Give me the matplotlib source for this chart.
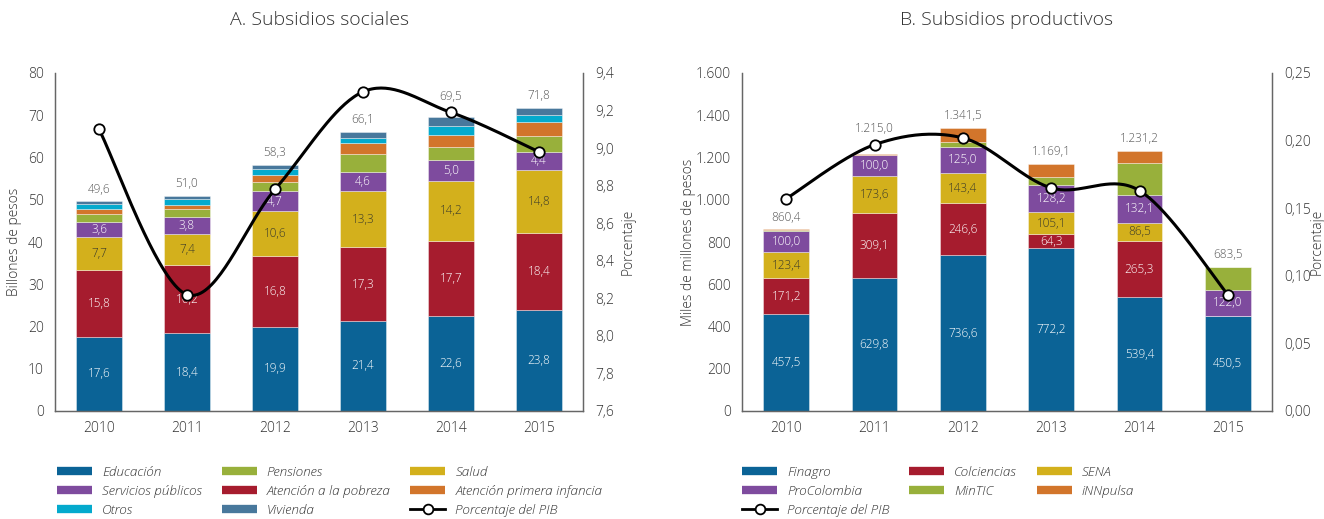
import matplotlib
matplotlib.use("Agg")
import matplotlib.pyplot as plt
import numpy as np
from matplotlib.lines import Line2D
from matplotlib.ticker import FuncFormatter

plt.rcParams["font.family"] = ["Open Sans", "DejaVu Sans"]
plt.rcParams["font.weight"] = 300

years = ["2010", "2011", "2012", "2013", "2014", "2015"]

# A. Subsidios sociales (billones de pesos)
educacion = [17.6, 18.4, 19.9, 21.4, 22.6, 23.8]
pobreza = [15.8, 16.2, 16.8, 17.3, 17.7, 18.4]
salud = [7.7, 7.4, 10.6, 13.3, 14.2, 14.8]
servicios = [3.6, 3.8, 4.7, 4.6, 5.0, 4.4]
pensiones = [2.0, 2.0, 2.1, 4.3, 3.1, 3.6]
primera_infancia = [1.2, 0.9, 1.7, 2.5, 2.8, 3.5]
otros = [1.0, 1.5, 1.5, 1.3, 2.1, 1.5]
vivienda = [0.7, 0.8, 1.0, 1.4, 2.0, 1.8]
totales_a = [49.6, 51.0, 58.3, 66.1, 69.5, 71.8]
pib_a = [9.10, 8.22, 8.78, 9.30, 9.19, 8.98]

# B. Subsidios productivos (miles de millones de pesos)
finagro = [457.5, 629.8, 736.6, 772.2, 539.4, 450.5]
colciencias = [171.2, 309.1, 246.6, 64.3, 265.3, 0.0]
sena = [123.4, 173.6, 143.4, 105.1, 86.5, 0.0]
procolombia = [100.0, 100.0, 125.0, 128.2, 132.1, 122.0]
mintic = [5.0, 0.0, 21.0, 40.0, 151.0, 111.0]
innpulsa = [3.3, 2.5, 68.9, 59.3, 56.9, 0.0]
totales_b = [860.4, 1215.0, 1341.5, 1169.1, 1231.2, 683.5]
pib_b = [0.157, 0.197, 0.202, 0.165, 0.163, 0.086]

C_BLUE = "#0b6396"
C_RED = "#a61c2e"
C_YELLOW = "#d3b01c"
C_PURPLE = "#7e4b9e"
C_GREEN = "#98b03b"
C_ORANGE = "#d2752b"
C_CYAN = "#04aacd"
C_STEEL = "#48789c"
AXIS_C = "#666666"
TEXT_C = "#333333"

W, H = 1324, 519
fig = plt.figure(figsize=(W / 100, H / 100), dpi=100)


def fx(px):
    return px / W


def fy(py):
    return 1 - py / H


def comma(v, dec):
    s = f"{v:,.{dec}f}"
    return s.replace(",", "X").replace(".", ",").replace("X", ".")


def smooth(x, y, n=40):
    pts = np.column_stack([x, y]).astype(float)
    out = [pts[0]]
    t = np.linspace(0, 1, n)[1:, None]
    for i in range(len(pts) - 1):
        p0 = pts[i - 1] if i > 0 else pts[i]
        p1, p2 = pts[i], pts[i + 1]
        p3 = pts[i + 2] if i + 2 < len(pts) else pts[i + 1]
        c1 = p1 + (p2 - p0) / 6
        c2 = p2 - (p3 - p1) / 6
        seg = (1 - t) ** 3 * p1 + 3 * (1 - t) ** 2 * t * c1 + 3 * (1 - t) * t ** 2 * c2 + t ** 3 * p2
        out.extend(seg)
    out = np.array(out)
    return out[:, 0], out[:, 1]


def style_axes(ax, ax2):
    for a in (ax, ax2):
        a.spines["top"].set_visible(False)
        for s in ("left", "right", "bottom"):
            a.spines[s].set_color(AXIS_C)
            a.spines[s].set_linewidth(0.9)
        a.tick_params(length=0, colors=TEXT_C, labelsize=10)
    ax.tick_params(axis="y", pad=8)
    ax2.tick_params(axis="y", pad=9)
    ax.tick_params(axis="x", pad=7)


def draw_panel(rect, series, colors, labeled, totales, pib, ylim, yticks, yfmt,
               y2lim, y2ticks, y2fmt, total_fmt, lift):
    ax = fig.add_axes(rect)
    x = np.arange(len(years))
    bottom = np.zeros(len(years))
    for k, (vals, col) in enumerate(zip(series, colors)):
        vals = np.asarray(vals, dtype=float)
        ax.bar(x, vals, width=0.52, bottom=bottom, color=col,
               edgecolor=(1, 1, 1, 0.45), linewidth=0.6, zorder=2)
        if k < labeled:
            tc = "#3a3a2a" if col == C_YELLOW else "white"
            for xi, v, b in zip(x, vals, bottom):
                if v > 0:
                    ax.text(xi, b + v / 2, comma(v, 1), ha="center", va="center",
                            fontsize=8.5, color=tc, zorder=3)
        bottom += vals
    # total above each bar; some are lifted clear of the PIB marker
    for xi, t in zip(x, totales):
        ax.annotate(total_fmt(t), (xi, t), xytext=(0, 4 + lift.get(xi, 0)),
                    textcoords="offset points", ha="center", va="bottom",
                    fontsize=8.5, color="#555555")
    ax.set_xlim(-0.5, len(years) - 0.5)
    ax.set_ylim(*ylim)
    ax.set_yticks(yticks)
    ax.yaxis.set_major_formatter(FuncFormatter(yfmt))
    ax.set_xticks(x)
    ax.set_xticklabels(years)

    ax2 = ax.twinx()
    sx, sy = smooth(x, pib)
    ax2.plot(sx, sy, color="black", lw=2.2, zorder=4, solid_capstyle="round")
    ax2.plot(x, pib, ls="none", marker="o", ms=7.5, mfc="white", mec="black",
             mew=1.3, zorder=5)
    ax2.set_ylim(*y2lim)
    ax2.set_yticks(y2ticks)
    ax2.yaxis.set_major_formatter(FuncFormatter(y2fmt))
    style_axes(ax, ax2)
    return ax, ax2


# Panel A
draw_panel([fx(55), fy(411), fx(528), 338 / H],
           [educacion, pobreza, salud, servicios, pensiones, primera_infancia, otros, vivienda],
           [C_BLUE, C_RED, C_YELLOW, C_PURPLE, C_GREEN, C_ORANGE, C_CYAN, C_STEEL],
           4, totales_a, pib_a,
           (0, 80), np.arange(0, 81, 10), lambda v, p: f"{v:.0f}",
           (7.6, 9.4), np.arange(7.6, 9.41, 0.2), lambda v, p: comma(v, 1),
           lambda t: comma(t, 1), {4: 6})

# Panel B
draw_panel([fx(742), fy(411), fx(530), 338 / H],
           [finagro, colciencias, sena, procolombia, mintic, innpulsa],
           [C_BLUE, C_RED, C_YELLOW, C_PURPLE, C_GREEN, C_ORANGE],
           4, totales_b, pib_b,
           (0, 1600), np.arange(0, 1601, 200), lambda v, p: comma(v, 0),
           (0, 0.25), np.arange(0, 0.251, 0.05), lambda v, p: comma(v, 2),
           lambda t: comma(t, 1), {1: 10})

# Titles and axis labels
fig.text(fx(320), fy(20), "A. Subsidios sociales", ha="center", va="center",
         fontsize=14, color=TEXT_C)
fig.text(fx(1007), fy(20), "B. Subsidios productivos", ha="center", va="center",
         fontsize=14, color=TEXT_C)
fig.text(fx(15), fy(242), "Billones de pesos", rotation=90, ha="center", va="center",
         fontsize=10, color=TEXT_C)
fig.text(fx(628), fy(242), "Porcentaje", rotation=90, ha="center", va="center",
         fontsize=10, color=TEXT_C)
fig.text(fx(688), fy(242), "Miles de millones de pesos", rotation=90, ha="center",
         va="center", fontsize=10, color=TEXT_C)
fig.text(fx(1317), fy(242), "Porcentaje", rotation=90, ha="center", va="center",
         fontsize=10, color=TEXT_C)


def bar_handle(c):
    return Line2D([], [], color=c, lw=6, solid_capstyle="butt")


pib_handle = Line2D([], [], color="black", lw=2, marker="o", ms=7, mfc="white",
                    mec="black", mew=1.3)

leg_kw = dict(loc="upper left", ncol=3, frameon=False, handlelength=2.6,
              handletextpad=0.75, columnspacing=1.45, labelspacing=0.45,
              borderpad=0, borderaxespad=0,
              prop={"style": "italic", "size": 9.7, "weight": 300})

leg_a = fig.legend(
    [bar_handle(C_BLUE), bar_handle(C_PURPLE), bar_handle(C_CYAN),
     bar_handle(C_GREEN), bar_handle(C_RED), bar_handle(C_STEEL),
     bar_handle(C_YELLOW), bar_handle(C_ORANGE), pib_handle],
    ["Educación", "Servicios públicos", "Otros",
     "Pensiones", "Atención a la pobreza", "Vivienda",
     "Salud", "Atención primera infancia", "Porcentaje del PIB"],
    bbox_to_anchor=(fx(57), fy(466)), **leg_kw)
for txt in leg_a.get_texts():
    txt.set_color(TEXT_C)

leg_b = fig.legend(
    [bar_handle(C_BLUE), bar_handle(C_PURPLE), pib_handle,
     bar_handle(C_RED), bar_handle(C_GREEN),
     bar_handle(C_YELLOW), bar_handle(C_ORANGE)],
    ["Finagro", "ProColombia", "Porcentaje del PIB",
     "Colciencias", "MinTIC",
     "SENA", "iNNpulsa"],
    bbox_to_anchor=(fx(742), fy(466)), **leg_kw)
for txt in leg_b.get_texts():
    txt.set_color(TEXT_C)

fig.savefig("out.png", dpi=100)
